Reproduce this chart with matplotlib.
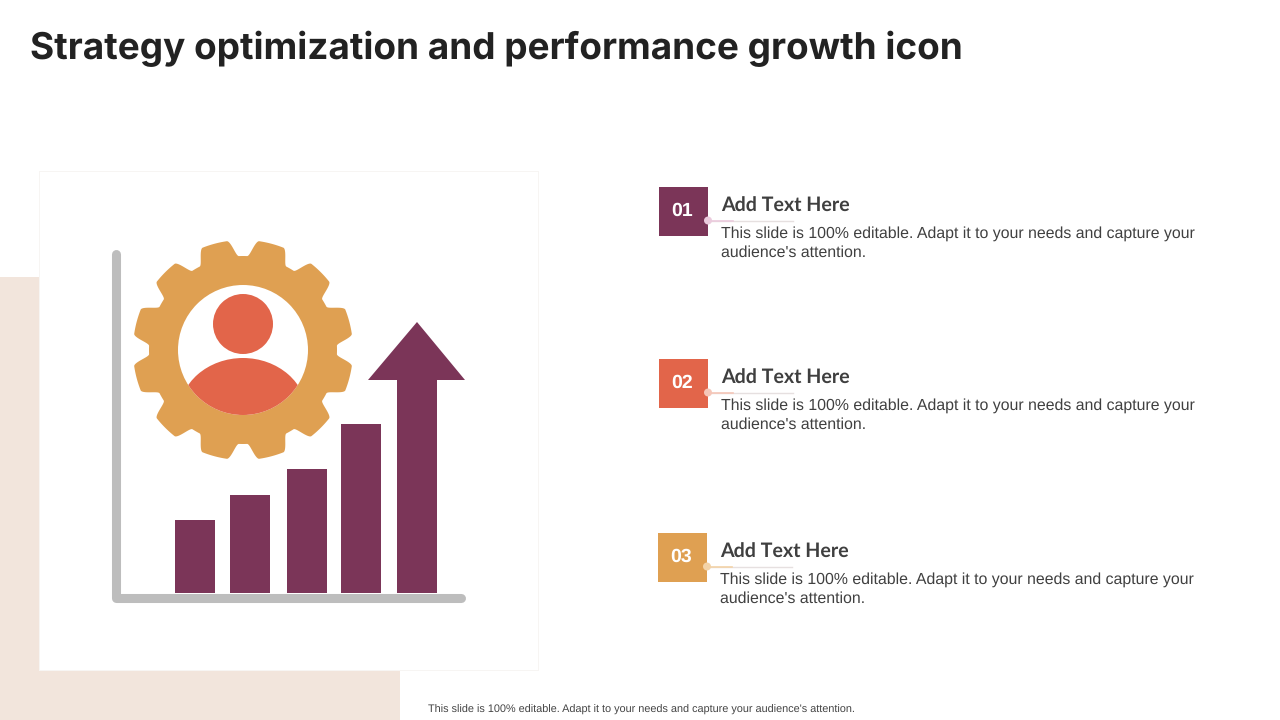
import numpy as np
import matplotlib.pyplot as plt
from matplotlib.patches import Circle, Ellipse, Polygon, Rectangle

plt.rcParams['text.hinting'] = 'no_hinting'

# bar heights (px above the baseline)
bar_heights = [73, 98, 124, 169]
arrow_height = 271
bar_centres = [195, 250, 307, 361]

numbers = ['01', '02', '03']
headings = ['Add Text Here', 'Add Text Here', 'Add Text Here']
line_1 = 'This slide is 100% editable. Adapt it to your needs and capture your'
line_2 = "audience's attention."
footer = "This slide is 100% editable. Adapt it to your needs and capture your audience's attention."
title = 'Strategy optimization and performance growth icon'

PLUM = '#7B3558'
RED = '#E2654A'
GOLD = '#DFA052'
GREY = '#BDBDBD'
BASE_Y = 593


def gear_outline(cx, cy, outer, inner, teeth=12):
    """Outline of a cog with soft corners, in pixel coordinates."""
    degrees = np.linspace(0, 360, 2161)[:-1]
    pitch = 360 / teeth
    # distance from the nearest tooth centre, teeth sit at 15, 45, 75...
    dist = np.abs((degrees - 15 + pitch / 2) % pitch - pitch / 2)
    t = np.clip((dist - 6.5) / 6.0, 0, 1)
    radius = outer - (outer - inner) * t * t * (3 - 2 * t)
    angles = np.radians(degrees)
    return np.column_stack([cx + radius * np.cos(angles), cy - radius * np.sin(angles)])


def draw_icon(ax):
    ax.add_patch(Rectangle((0, 277), 400, 443, color='#F2E5DC', lw=0, zorder=1))
    # soft edge of the card
    ax.add_patch(Rectangle((39, 171), 500, 500, color='#F7F5F3', lw=0, zorder=2))
    ax.add_patch(Rectangle((40, 172), 498, 498, color='white', lw=0, zorder=3))

    ax.plot([116, 116, 461], [254, 597.5, 597.5], color=GREY, lw=6.5,
            solid_capstyle='round', solid_joinstyle='round', zorder=4)

    # y axis runs downwards here, so the bars get negative heights
    ax.bar(bar_centres, [-h for h in bar_heights], width=40, bottom=BASE_Y, color=PLUM, lw=0, zorder=5)
    # the arrow is the fifth bar with a head on it
    shaft = arrow_height - 58
    ax.bar([417], [-shaft], width=40, bottom=BASE_Y, color=PLUM, lw=0, zorder=5)
    ax.add_patch(Polygon([(368, BASE_Y - shaft), (417, BASE_Y - arrow_height), (465, BASE_Y - shaft)],
                         closed=True, color=PLUM, lw=0, zorder=5))

    ax.add_patch(Polygon(gear_outline(243, 350, 110, 94), closed=True, color=GOLD, lw=0, zorder=6))
    ax.add_patch(Circle((243, 350), 65, color='white', lw=0, zorder=7))
    ax.add_patch(Circle((243, 324), 30, color=RED, lw=0, zorder=8))
    body = Ellipse((243, 414), 128, 112, color=RED, lw=0, zorder=8)
    ax.add_patch(body)
    body.set_clip_path(Circle((243, 350), 65, transform=ax.transData))


def draw_item(ax, x, y, number, heading, colour, tint):
    """x, y is the top left corner of the numbered square."""
    ax.add_patch(Rectangle((x, y), 49, 49, color=colour, lw=0, zorder=3))
    ax.text(x + 23.5, y + 24, number, color='white', fontsize=14, fontweight='bold',
            family='Liberation Sans', ha='center', va='center', zorder=4)
    ax.text(x + 62.5, y + 19, heading, color='#3F3F3F', fontsize=14.1, fontweight='bold',
            family='Lato', ha='left', va='center', zorder=4)
    ax.plot([x + 49, x + 134], [y + 33.5, y + 33.5], color='#E6E0E0', lw=1, zorder=3)
    ax.plot([x + 49, x + 74], [y + 33.5, y + 33.5], color=tint, lw=1.2, zorder=3)
    ax.add_patch(Circle((x + 49, y + 33.5), 4, color=tint, lw=0, zorder=4))
    for dy, line in ((47, line_1), (66, line_2)):
        ax.text(x + 62, y + dy, line, color='#404040', fontsize=11.4,
                family='Liberation Sans', ha='left', va='center', zorder=4)


fig = plt.figure(figsize=(12.8, 7.2), dpi=100, facecolor='white')
ax = fig.add_axes([0, 0, 1, 1])
ax.set_xlim(0, 1280)
ax.set_ylim(720, 0)
ax.axis('off')

draw_icon(ax)

ax.text(30, 49, title, color='#222222', fontsize=26.6, fontweight='bold', family='Inter',
        ha='left', va='center')

draw_item(ax, 659, 187, numbers[0], headings[0], PLUM, '#EBCBDD')
draw_item(ax, 659, 359, numbers[1], headings[1], RED, '#F5C6B8')
draw_item(ax, 658, 533, numbers[2], headings[2], GOLD, '#F3D3A8')

ax.text(428, 709.5, footer, color='#444444', fontsize=7.8, family='Liberation Sans',
        ha='left', va='center')

fig.savefig('out.png', dpi=100)
